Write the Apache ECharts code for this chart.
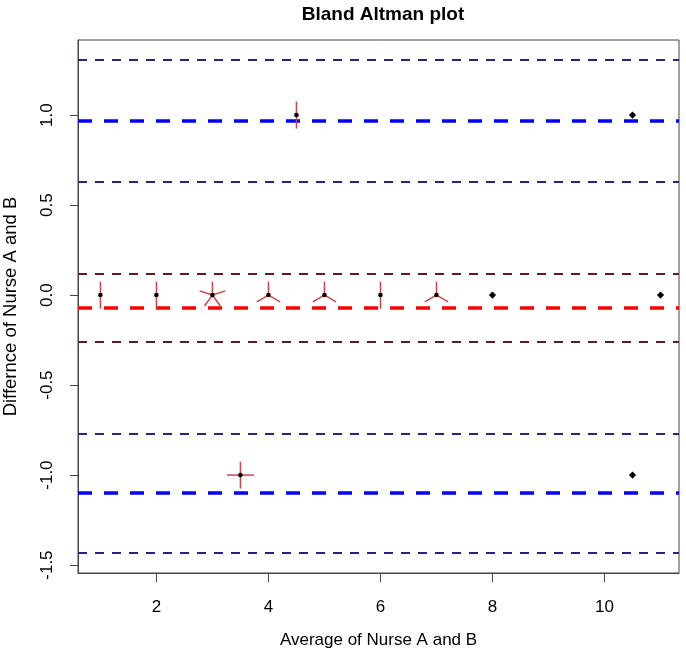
<!DOCTYPE html>
<html>
<head>
<meta charset="utf-8">
<script src="https://cdn.jsdelivr.net/npm/echarts@6/dist/echarts.min.js"></script>
<style>
html,body{margin:0;padding:0;background:#fff;}
#main{width:686px;height:653px;}
</style>
</head>
<body>
<div id="main"></div>
<script>
// Data
const xs = [1, 2, 3, 4, 5, 6, 7, 8, 11, 4.5, 10.5, 3.5, 10.5];
const ys = [0, 0, 0, 0, 0, 0, 0, 0, 0, 1, 1, -1, -1];
const counts = [2, 2, 5, 3, 3, 2, 3, 1, 1, 2, 1, 4, 1];
const xTicks = [2, 4, 6, 8, 10];
const yTicks = [-1.5, -1.0, -0.5, 0.0, 0.5, 1.0];
const meanDiff = -0.070;
const meanCI = [0.124, -0.261];
const upperLoA = 0.968;
const lowerLoA = -1.102;
const upperLoACI = [1.311, 0.633];
const lowerLoACI = [-0.772, -1.433];

const FONT = "'Liberation Sans', Arial, sans-serif";
const NAVY = '#26247e';
const DARKRED = '#5a1c1c';
const PETAL = '#c64848';

function ml(v, color, width, dash) {
  return { yAxis: v, lineStyle: { color: color, width: width, type: dash } };
}
const thin = [9, 8], thick = [14, 12];
const lines = [
  ml(upperLoACI[0], NAVY, 2, thin),
  ml(upperLoACI[1], NAVY, 2, thin),
  ml(lowerLoACI[0], NAVY, 2, thin),
  ml(lowerLoACI[1], NAVY, 2, thin),
  ml(meanCI[0], DARKRED, 2, thin),
  ml(meanCI[1], DARKRED, 2, thin),
  ml(upperLoA, '#0000ff', 3.6, thick),
  ml(lowerLoA, '#0000ff', 3.6, thick),
  ml(meanDiff, '#ff0000', 3.6, thick)
];

const chart = echarts.init(document.getElementById('main'), null, { renderer: 'canvas' });
chart.setOption({
  backgroundColor: '#fff',
  animation: false,
  textStyle: { fontFamily: FONT },
  title: {
    text: 'Bland Altman plot',
    left: 378, top: 0, textAlign: 'center',
    textStyle: { fontFamily: FONT, fontSize: 19, fontWeight: 'bold', color: '#000' }
  },
  grid: { left: 78, right: 7, top: 40, bottom: 80, show: true, borderColor: '#444', borderWidth: 1,
    backgroundColor: 'transparent', containLabel: false, outerBoundsMode: 'none' },
  xAxis: {
    type: 'value', min: 0.6, max: 11.33,
    name: 'Average of Nurse A and B', nameLocation: 'middle', nameGap: 59,
    nameTextStyle: { fontFamily: FONT, fontSize: 17, color: '#000' },
    axisLine: { show: true, onZero: false, lineStyle: { color: '#444', width: 1 } },
    axisTick: { show: true, length: 9, customValues: xTicks, lineStyle: { color: '#444', width: 1 } },
    axisLabel: { customValues: xTicks, fontFamily: FONT, fontSize: 17, color: '#000', margin: 26 },
    splitLine: { show: false }
  },
  yAxis: {
    type: 'value', min: -1.544, max: 1.417,
    name: 'Differnce of Nurse A and B', nameLocation: 'middle', nameGap: 58, nameRotate: 90,
    nameTextStyle: { fontFamily: FONT, fontSize: 18.5, color: '#000' },
    axisLine: { show: true, onZero: false, lineStyle: { color: '#444', width: 1 } },
    axisTick: { show: true, length: 8, customValues: yTicks, lineStyle: { color: '#444', width: 1 } },
    axisLabel: { customValues: yTicks, rotate: 90, fontFamily: FONT, fontSize: 17, color: '#000', margin: 22,
      formatter: v => Number(v).toFixed(1) },
    splitLine: { show: false }
  },
  series: [
    {
      type: 'scatter', data: [], silent: true, z: 1,
      markLine: { silent: true, symbol: 'none', label: { show: false }, animation: false, data: lines }
    },
    {
      type: 'custom', z: 5,
      data: xs.map((x, i) => [x, ys[i], counts[i]]),
      encode: { x: 0, y: 1 },
      renderItem: function (params, api) {
        const c = api.coord([api.value(0), api.value(1)]);
        const n = api.value(2);
        const L = 13.5;
        const children = [];
        if (n > 1) {
          for (let k = 1; k <= n; k++) {
            const a = 2 * Math.PI * k / n;
            children.push({ type: 'line', shape: { x1: c[0], y1: c[1], x2: c[0] + L * Math.sin(a), y2: c[1] - L * Math.cos(a) },
              style: { stroke: PETAL, lineWidth: 1.5 } });
          }
          children.push({ type: 'circle', shape: { cx: c[0], cy: c[1], r: 2.3 }, style: { fill: '#000' } });
        } else {
          const r = 3.6;
          children.push({ type: 'polygon', shape: { points: [[c[0], c[1] - r], [c[0] + r, c[1]], [c[0], c[1] + r], [c[0] - r, c[1]]] },
            style: { fill: '#000' } });
        }
        return { type: 'group', children: children };
      }
    }
  ]
});
</script>
</body>
</html>
